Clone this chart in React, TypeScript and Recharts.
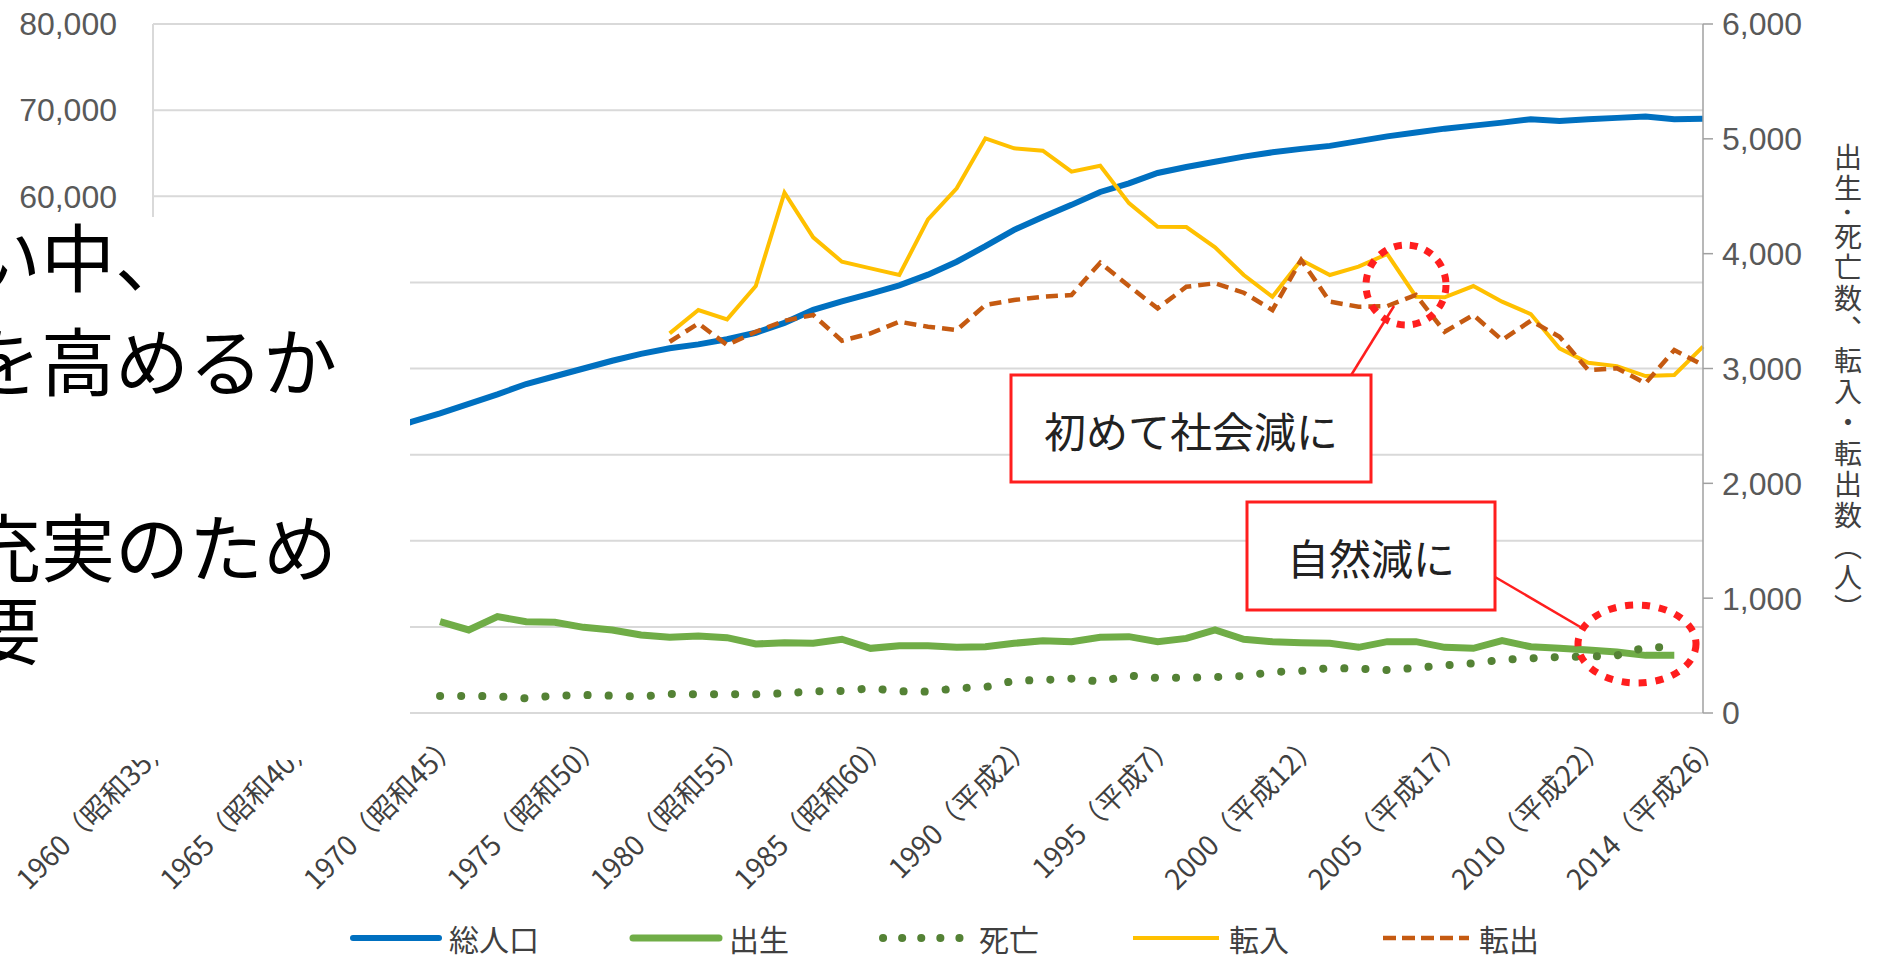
import React from "react";
import { LineChart, Line, XAxis, YAxis, CartesianGrid, Legend } from "recharts";

// ---- data ----
const years = [
  "1960", "1961", "1962", "1963", "1964", "1965", "1966", "1967", "1968", "1969",
  "1970", "1971", "1972", "1973", "1974", "1975", "1976", "1977", "1978", "1979",
  "1980", "1981", "1982", "1983", "1984", "1985", "1986", "1987", "1988", "1989",
  "1990", "1991", "1992", "1993", "1994", "1995", "1996", "1997", "1998", "1999",
  "2000", "2001", "2002", "2003", "2004", "2005", "2006", "2007", "2008", "2009",
  "2010", "2011", "2012", "2013", "2014",
];

const labelYears = ["1960", "1965", "1970", "1975", "1980", "1985", "1990", "1995", "2000", "2005", "2010", "2014"];
const eraNames = ["昭和35", "昭和40", "昭和45", "昭和50", "昭和55", "昭和60", "平成2", "平成7", "平成12", "平成17", "平成22", "平成26"];

const popTicks = [0, 10000, 20000, 30000, 40000, 50000, 60000, 70000, 80000];
const countTicks = [0, 1000, 2000, 3000, 4000, 5000, 6000];

// 総人口 1960-2014 (1960-68 sits behind the text box)
const population = [
  24500, 25400, 26300, 27300, 28300, 29300, 30400, 31500, 32600, 33800,
  34800, 35900, 37000, 38200, 39100, 40000, 40900, 41700, 42350, 42800,
  43400, 44150, 45300, 46800, 47800, 48700, 49650, 50900, 52400, 54200,
  56100, 57600, 59000, 60500, 61500, 62700, 63400, 64000, 64600, 65100,
  65500, 65850, 66400, 66950, 67400, 67850, 68200, 68550, 68950, 68750,
  68950, 69100, 69250, 68950, 69000,
];

// 出生 / 死亡 1970-2013
const vitalStartYear = "1970";
const births = [
  795, 723, 839, 795, 790, 746, 723, 679, 659, 670,
  656, 601, 612, 607, 642, 563, 586, 586, 572, 577,
  607, 630, 621, 659, 665, 621, 650, 723, 642, 621,
  612, 607, 572, 621, 621, 572, 563, 630, 577, 563,
  549, 531, 502, 502,
];
const deaths = [
  148, 148, 146, 128, 151, 157, 151, 142, 165, 163,
  163, 163, 171, 189, 192, 215, 189, 186, 215, 226,
  281, 287, 299, 273, 326, 306, 306, 313, 322, 357,
  366, 392, 386, 374, 392, 415, 433, 464, 476, 488,
  490, 502, 572, 572,
];

// 転入 / 転出 1978-2014
const migrationStartYear = "1978";
const moveIn = [
  3306, 3509, 3428, 3718, 4531, 4142, 3930, 3872, 3814, 4299,
  4569, 5004, 4917, 4897, 4714, 4766, 4440, 4235, 4232, 4055,
  3814, 3625, 3945, 3814, 3887, 3997, 3625, 3620, 3718, 3582,
  3474, 3176, 3050, 3021, 2934, 2943, 3190,
];
const moveOut = [
  3233, 3393, 3205, 3320, 3416, 3466, 3242, 3306, 3407, 3364,
  3335, 3553, 3596, 3625, 3640, 3921, 3718, 3524, 3712, 3742,
  3660, 3509, 3945, 3582, 3538, 3544, 3640, 3320, 3466, 3248,
  3416, 3277, 2987, 3002, 2871, 3161, 3030,
];

const seriesOrder = ["population", "births", "deaths", "moveIn", "moveOut"];

const vitalStart = years.indexOf(vitalStartYear);
const migrationStart = years.indexOf(migrationStartYear);

const rows = years.map((year, i) => {
  const v = i - vitalStart;
  const m = i - migrationStart;
  return {
    year,
    population: population[i],
    births: v >= 0 && v < births.length ? births[v] : null,
    deaths: v >= 0 && v < deaths.length ? deaths[v] : null,
    moveIn: m >= 0 && m < moveIn.length ? moveIn[m] : null,
    moveOut: m >= 0 && m < moveOut.length ? moveOut[m] : null,
  };
});

// category boundaries for the inward tick marks
const frameTicks = years.map((_, i) => i).concat(years.length);

const CJK = "'Noto Sans CJK JP', 'Noto Sans', sans-serif";
const NUM = "'Liberation Sans', Arial, sans-serif";

// the slide's text box that sits on top of the chart's left part
const MASK = { left: 0, top: 217, width: 410, height: 543 };

const COLORS = {
  population: "#0070C0",
  births: "#70AD47",
  deaths: "#548235",
  moveIn: "#FFC000",
  moveOut: "#C55A11",
  red: "#ff1e1e",
};

const legendIcon: Record<string, { width: number; dash?: string; cap: "round" | "butt" }> = {
  population: { width: 6, cap: "round" },
  births: { width: 7, cap: "round" },
  deaths: { width: 8, dash: "0.1 19", cap: "round" },
  moveIn: { width: 4, cap: "butt" },
  moveOut: { width: 4.5, dash: "13 6", cap: "butt" },
};

function YearTick(props: any) {
  const { x, y, payload } = props;
  const idx = labelYears.indexOf(payload.value);
  const ax = x + 21;
  const ay = y + 33;
  return (
    <text
      x={ax}
      y={ay}
      transform={`rotate(-45 ${ax} ${ay})`}
      textAnchor="end"
      fontSize={28}
      fill="#404040"
      fontFamily={CJK}
    >
      {`${payload.value}（${eraNames[idx]}）`}
    </text>
  );
}

// left labels under the text box are not visible in the slide
function PopTick(props: any) {
  const { x, y, payload } = props;
  if (y > MASK.top) return <g />;
  return (
    <text x={x} y={y} dy="0.355em" textAnchor="end" fontSize={32} fill="#595959" fontFamily={NUM}>
      {Number(payload.value).toLocaleString("en-US")}
    </text>
  );
}

function renderLegend(props: any) {
  const items = [...(props.payload || [])].sort(
    (a: any, b: any) => seriesOrder.indexOf(a.dataKey) - seriesOrder.indexOf(b.dataKey)
  );
  return (
    <div style={{ display: "flex", justifyContent: "center", alignItems: "center", height: 44 }}>
      {items.map((entry: any, idx: number) => {
        const s = legendIcon[entry.dataKey] || { width: 5, cap: "butt" };
        return (
          <div key={entry.dataKey} style={{ display: "flex", alignItems: "center", marginLeft: idx ? 90 : 0 }}>
            <svg width={94} height={20}>
              <line
                x1={4}
                y1={10}
                x2={90}
                y2={10}
                stroke={entry.color}
                strokeWidth={s.width}
                strokeDasharray={s.dash}
                strokeLinecap={s.cap}
              />
            </svg>
            <span style={{ marginLeft: 6, fontSize: 30, color: "#404040", fontFamily: CJK, lineHeight: "normal" }}>
              {entry.value}
            </span>
          </div>
        );
      })}
    </div>
  );
}

export default function App() {
  return (
    <div style={{ position: "fixed", left: 0, top: 0, width: 1888, height: 960, background: "#fff", overflow: "hidden" }}>
      <LineChart width={1888} height={960} data={rows} margin={{ top: 24, right: 65, bottom: 0, left: 0 }}>
        <CartesianGrid xAxisId="cat" yAxisId="pop" vertical={false} stroke="#d9d9d9" strokeWidth={2} />
        <XAxis
          xAxisId="cat"
          dataKey="year"
          ticks={labelYears}
          interval={0}
          tick={<YearTick />}
          tickLine={false}
          axisLine={false}
          tickSize={0}
          tickMargin={0}
          height={203}
        />
        <XAxis
          xAxisId="frame"
          type="number"
          domain={[0, years.length]}
          ticks={frameTicks}
          allowDataOverflow
          mirror
          height={0}
          tick={false}
          tickSize={7}
          axisLine={{ stroke: "#404040", strokeWidth: 2.5 }}
          tickLine={{ stroke: "#404040", strokeWidth: 1.5 }}
        />
        <YAxis
          yAxisId="pop"
          domain={[0, 80000]}
          ticks={popTicks}
          width={153}
          tickSize={0}
          tickMargin={36}
          tickLine={false}
          axisLine={{ stroke: "#d9d9d9", strokeWidth: 2 }}
          tick={<PopTick />}
        />
        <YAxis
          yAxisId="cnt"
          orientation="right"
          domain={[0, 6000]}
          ticks={countTicks}
          width={120}
          tickSize={10}
          tickMargin={9}
          tickLine={{ stroke: "#a0a0a0", strokeWidth: 1.5 }}
          axisLine={{ stroke: "#a0a0a0", strokeWidth: 1.5 }}
          tick={{ fontSize: 32, fill: "#595959", fontFamily: NUM, textAnchor: "start" }}
          tickFormatter={(v: number) => v.toLocaleString("en-US")}
        />
        <Line xAxisId="cat" yAxisId="pop" dataKey="population" name="総人口" type="linear" stroke={COLORS.population} strokeWidth={6} dot={false} isAnimationActive={false} />
        <Line xAxisId="cat" yAxisId="cnt" dataKey="births" name="出生" type="linear" stroke={COLORS.births} strokeWidth={7} dot={false} isAnimationActive={false} />
        <Line xAxisId="cat" yAxisId="cnt" dataKey="deaths" name="死亡" type="linear" stroke={COLORS.deaths} strokeWidth={8} strokeDasharray="0.1 21" strokeLinecap="round" dot={false} isAnimationActive={false} />
        <Line xAxisId="cat" yAxisId="cnt" dataKey="moveIn" name="転入" type="linear" stroke={COLORS.moveIn} strokeWidth={4} dot={false} isAnimationActive={false} />
        <Line xAxisId="cat" yAxisId="cnt" dataKey="moveOut" name="転出" type="linear" stroke={COLORS.moveOut} strokeWidth={4.5} strokeDasharray="12 7" dot={false} isAnimationActive={false} />
        <Legend verticalAlign="bottom" content={renderLegend} wrapperStyle={{ left: 0, width: 1888, bottom: 0 }} />
      </LineChart>

      {/* slide text box that overlaps the chart */}
      <div style={{ position: "absolute", left: MASK.left, top: MASK.top, width: MASK.width, height: MASK.height, background: "#fff", overflow: "hidden", fontFamily: CJK, fontSize: 74, lineHeight: "74px", color: "#000", whiteSpace: "nowrap" }}>
        <div style={{ position: "absolute", left: -33, top: 0 }}>い中、</div>
        <div style={{ position: "absolute", left: -33, top: 104 }}>を高めるか</div>
        <div style={{ position: "absolute", left: -33, top: 290 }}>充実のため</div>
        <div style={{ position: "absolute", left: -33, top: 373 }}>要</div>
      </div>

      {/* right axis title */}
      <div style={{ position: "absolute", left: 1833, top: 143, writingMode: "vertical-rl", fontSize: 28, letterSpacing: 3, color: "#404040", fontFamily: CJK, lineHeight: "30px" }}>
        出生･死亡数、転入・転出数（人）
      </div>

      {/* callouts */}
      <svg width={1888} height={960} style={{ position: "absolute", left: 0, top: 0, pointerEvents: "none" }}>
        <line x1={1350} y1={377} x2={1394} y2={306} stroke={COLORS.red} strokeWidth={2.5} />
        <rect x={1011} y={375} width={360} height={107} fill="#fff" stroke={COLORS.red} strokeWidth={3} />
        <text x={1191} y={429} textAnchor="middle" dominantBaseline="central" fontSize={42} fill="#222" fontFamily={CJK}>初めて社会減に</text>
        <ellipse cx={1406} cy={285} rx={40} ry={40} fill="none" stroke={COLORS.red} strokeWidth={7} strokeDasharray="8 8" />

        <line x1={1495} y1={577} x2={1582} y2={628} stroke={COLORS.red} strokeWidth={2.5} />
        <rect x={1247} y={502} width={248} height={108} fill="#fff" stroke={COLORS.red} strokeWidth={3} />
        <text x={1371} y={556} textAnchor="middle" dominantBaseline="central" fontSize={42} fill="#222" fontFamily={CJK}>自然減に</text>
        <ellipse cx={1637} cy={644} rx={59} ry={39} fill="none" stroke={COLORS.red} strokeWidth={7} strokeDasharray="8 9" />
      </svg>
    </div>
  );
}
